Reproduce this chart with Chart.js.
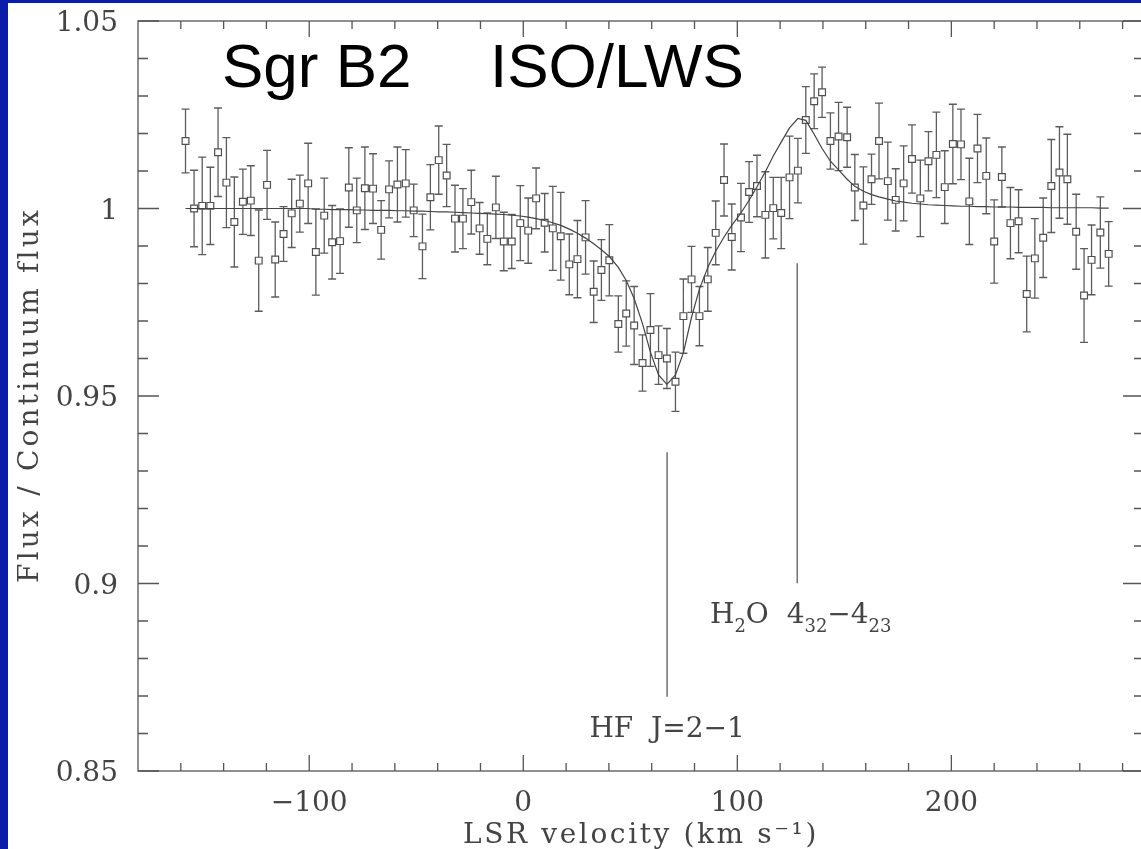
<!DOCTYPE html>
<html lang="en">
  <head>
    <meta charset="UTF-8" />
    <script src="https://cdn.jsdelivr.net/npm/chart.js@4.4.0/dist/chart.umd.min.js"></script>
    <title>Sgr B2 ISO/LWS</title>
    <style>
      html, body { margin: 0; padding: 0; overflow: hidden; background: #fff; }
      #wrap { position: relative; width: 1141px; height: 849px; overflow: hidden; }
      #chart { position: absolute; left: 0; top: 0; }
      .blue { position: absolute; background: #0a1ca8; }
    </style>
  </head>
  <body>
    <div id="wrap">
      <canvas id="chart" width="1150" height="849"></canvas>
      <div class="blue" style="left:0;top:0;width:8px;height:849px"></div>
      <div class="blue" style="left:0;top:0;width:1141px;height:3px"></div>
    </div>
    <script>
      // LSR velocity (km/s) of each ISO/LWS channel
      const velocity = [-157.8,-153.8,-150.0,-146.2,-142.6,-138.7,-135.0,-131.0,-127.3,-123.6,
        -119.7,-115.9,-112.0,-108.2,-104.4,-100.5,-96.9,-93.0,-89.3,-85.6,
        -81.5,-77.8,-74.0,-70.2,-66.4,-62.7,-58.8,-54.9,-51.2,-47.1,
        -43.4,-39.5,-35.8,-31.9,-28.2,-24.3,-20.4,-16.8,-12.8,-9.1,
        -5.4,-1.4,2.3,6.0,10.0,13.8,17.5,21.5,25.3,29.1,
        32.9,36.5,40.2,44.4,48.1,51.8,55.7,59.4,63.2,67.1,
        71.1,74.8,78.6,82.3,86.2,89.9,93.8,97.4,101.7,105.5,
        109.2,113.1,116.8,120.5,124.4,128.3,132.0,135.9,139.6,143.5,
        147.3,151.3,154.9,158.9,162.7,166.2,170.3,174.0,177.7,181.6,
        185.5,189.3,193.0,196.9,200.7,204.5,208.4,212.2,216.3,220.0,
        223.6,227.6,231.4,235.2,239.0,242.9,246.7,250.5,254.2,258.3,
        262.0,265.5,269.6,273.5];

      // flux / continuum flux
      const flux = [1.0180,1.0000,1.0007,1.0007,1.0150,1.0069,0.9964,1.0018,1.0021,0.9861,
        1.0063,0.9864,0.9932,0.9987,1.0013,1.0067,0.9884,0.9981,0.9910,0.9913,
        1.0056,0.9995,1.0054,1.0053,0.9943,1.0051,1.0064,1.0067,0.9995,0.9899,
        1.0030,1.0129,1.0088,0.9973,0.9973,1.0017,0.9947,0.9919,1.0003,0.9912,
        0.9912,0.9961,0.9941,1.0027,0.9962,0.9947,0.9926,0.9851,0.9865,0.9923,
        0.9778,0.9836,0.9862,0.9692,0.9720,0.9688,0.9588,0.9676,0.9609,0.9600,
        0.9538,0.9713,0.9811,0.9713,0.9811,0.9935,1.0076,0.9924,0.9976,1.0044,
        1.0060,0.9983,1.0001,0.9988,1.0083,1.0101,1.0236,1.0286,1.0310,1.0180,
        1.0192,1.0190,1.0056,1.0008,1.0078,1.0180,1.0073,1.0023,1.0067,1.0132,
        1.0027,1.0126,1.0143,1.0057,1.0172,1.0171,1.0019,1.0160,1.0087,0.9912,
        1.0084,0.9961,0.9966,0.9772,0.9867,0.9922,1.0060,1.0096,1.0078,0.9938,
        0.9768,0.9863,0.9936,0.9879];

      // 1 sigma error on each point
      const fluxErr = [0.0085,0.0102,0.0130,0.0103,0.0118,0.0120,0.0120,0.0087,0.0093,0.0135,
        0.0092,0.0100,0.0073,0.0091,0.0076,0.0107,0.0115,0.0100,0.0098,0.0086,
        0.0106,0.0086,0.0110,0.0093,0.0078,0.0076,0.0100,0.0090,0.0070,0.0086,
        0.0087,0.0091,0.0083,0.0089,0.0080,0.0085,0.0069,0.0069,0.0083,0.0078,
        0.0072,0.0100,0.0087,0.0081,0.0078,0.0112,0.0117,0.0081,0.0103,0.0098,
        0.0082,0.0081,0.0095,0.0075,0.0087,0.0104,0.0075,0.0097,0.0078,0.0080,
        0.0079,0.0099,0.0088,0.0079,0.0085,0.0085,0.0096,0.0088,0.0091,0.0081,
        0.0082,0.0115,0.0082,0.0095,0.0110,0.0086,0.0089,0.0073,0.0067,0.0075,
        0.0091,0.0080,0.0088,0.0103,0.0067,0.0101,0.0104,0.0083,0.0100,0.0091,
        0.0102,0.0079,0.0114,0.0097,0.0106,0.0094,0.0115,0.0091,0.0101,0.0111,
        0.0080,0.0095,0.0084,0.0101,0.0106,0.0106,0.0124,0.0122,0.0120,0.0100,
        0.0125,0.0093,0.0095,0.0086];

      // model fit (absorption HF + emission H2O), same channels
      const fitFlux = [1.0000,1.0000,1.0000,1.0000,1.0000,1.0000,1.0000,1.0000,1.0000,1.0000,
        1.0000,1.0000,1.0000,1.0000,1.0000,1.0000,0.9998,0.9998,0.9997,0.9997,
        0.9997,0.9996,0.9996,0.9995,0.9995,0.9995,0.9994,0.9994,0.9993,0.9993,
        0.9992,0.9991,0.9991,0.9990,0.9989,0.9988,0.9987,0.9986,0.9985,0.9984,
        0.9982,0.9980,0.9977,0.9973,0.9968,0.9962,0.9955,0.9945,0.9934,0.9921,
        0.9906,0.9890,0.9872,0.9843,0.9808,0.9760,0.9693,0.9617,0.9556,0.9531,
        0.9556,0.9615,0.9710,0.9785,0.9843,0.9886,0.9924,0.9955,0.9988,1.0022,
        1.0058,1.0098,1.0140,1.0177,1.0215,1.0240,1.0235,1.0198,1.0160,1.0126,
        1.0103,1.0078,1.0059,1.0046,1.0037,1.0031,1.0025,1.0020,1.0017,1.0014,
        1.0012,1.0010,1.0009,1.0008,1.0007,1.0006,1.0006,1.0005,1.0005,1.0004,
        1.0004,1.0004,1.0003,1.0003,1.0003,1.0003,1.0002,1.0002,1.0002,1.0002,
        1.0002,1.0002,1.0001,1.0001];

      // line identification markers
      const hfLineVel = [67.2, 67.2];
      const hfLineFlux = [0.8698, 0.935];
      const h2oLineVel = [128.0, 128.0];
      const h2oLineFlux = [0.9001, 0.9854];

      // axes
      const xTicks = [-160,-140,-120,-100,-80,-60,-40,-20,0,20,40,60,80,100,120,140,160,180,200,220,240,260,280];
      const xMajor = [-100, 0, 100, 200];
      const xLabels = ["\u2212100", "0", "100", "200"];
      const yTicks = [0.85,0.86,0.87,0.88,0.89,0.90,0.91,0.92,0.93,0.94,0.95,0.96,0.97,0.98,0.99,1.00,1.01,1.02,1.03,1.04,1.05];
      const yMajor = [0.85, 0.9, 0.95, 1, 1.05];
      const yLabels = ["0.85", "0.9", "0.95", "1", "1.05"];

      const ink = "#555";
      const serif = "'DejaVu Serif', serif";

      // error bars drawn under the squares
      const errorBars = {
        id: "errorBars",
        beforeDatasetsDraw(chart) {
          const { ctx, scales: { x, y } } = chart;
          ctx.save();
          ctx.strokeStyle = "#5c5c5c";
          ctx.lineWidth = 1.3;
          ctx.beginPath();
          velocity.forEach((v, i) => {
            const px = x.getPixelForValue(v);
            const top = y.getPixelForValue(flux[i] + fluxErr[i]);
            const bot = y.getPixelForValue(flux[i] - fluxErr[i]);
            ctx.moveTo(px, top); ctx.lineTo(px, bot);
            ctx.moveTo(px - 4, top); ctx.lineTo(px + 4, top);
            ctx.moveTo(px - 4, bot); ctx.lineTo(px + 4, bot);
          });
          ctx.stroke();
          ctx.restore();
        }
      };

      // box frame with inward ticks, labels and annotations
      const frame = {
        id: "frame",
        afterDraw(chart) {
          const { ctx, chartArea: a, scales: { x, y } } = chart;
          ctx.save();
          ctx.strokeStyle = ink;
          ctx.lineWidth = 1.3;
          ctx.strokeRect(a.left, a.top, a.right - a.left, a.bottom - a.top);
          ctx.beginPath();
          xTicks.forEach(v => {
            const px = x.getPixelForValue(v);
            const len = xMajor.includes(v) ? 16 : 8;
            ctx.moveTo(px, a.bottom); ctx.lineTo(px, a.bottom - len);
            ctx.moveTo(px, a.top); ctx.lineTo(px, a.top + len);
          });
          yTicks.forEach(v => {
            const py = y.getPixelForValue(v);
            const major = yMajor.some(m => Math.abs(m - v) < 1e-6);
            const len = major ? 21 : 10;
            ctx.moveTo(a.left, py); ctx.lineTo(a.left + len, py);
            ctx.moveTo(a.right, py); ctx.lineTo(a.right - len, py);
          });
          ctx.stroke();

          ctx.fillStyle = "#444";
          ctx.font = "28px " + serif;
          ctx.textBaseline = "alphabetic";
          ctx.textAlign = "right";
          yMajor.forEach((v, i) => {
            ctx.fillText(yLabels[i], a.left - 20, y.getPixelForValue(v) + 10);
          });
          ctx.textAlign = "center";
          xMajor.forEach((v, i) => {
            ctx.fillText(xLabels[i], x.getPixelForValue(v), a.bottom + 40);
          });

          // axis titles
          ctx.letterSpacing = "2.6px";
          ctx.fillText("LSR velocity (km s\u207B\u00B9)", 641, 843);
          ctx.save();
          ctx.translate(38, 395);
          ctx.rotate(-Math.PI / 2);
          ctx.letterSpacing = "3.2px";
          ctx.fillText("Flux / Continuum flux", 0, 0);
          ctx.restore();
          ctx.letterSpacing = "0px";

          // line names
          ctx.fillText("HF  J=2\u22121", x.getPixelForValue(hfLineVel[0]), 737);
          ctx.textAlign = "left";
          let cx = 710;
          const base = 623;
          const parts = [["H", 0], ["2", 1], ["O  4", 0], ["32", 1], ["\u22124", 0], ["23", 1]];
          parts.forEach(([t, sub]) => {
            ctx.font = (sub ? "18px " : "28px ") + serif;
            ctx.fillText(t, cx, sub ? base + 9 : base);
            cx += ctx.measureText(t).width;
          });

          // slide title
          ctx.fillStyle = "#000";
          ctx.font = "62px 'Liberation Sans', Arial, sans-serif";
          ctx.fillText("Sgr B2", 222, 87);
          ctx.fillText("ISO/LWS", 490, 87);
          ctx.restore();
        }
      };

      const ctx = document.getElementById("chart").getContext("2d");
      new Chart(ctx, {
        type: "scatter",
        data: {
          datasets: [
            {
              label: "HF line",
              data: hfLineVel.map((v, i) => ({ x: v, y: hfLineFlux[i] })),
              showLine: true,
              borderColor: "#777",
              borderWidth: 1.6,
              pointRadius: 0
            },
            {
              label: "H2O line",
              data: h2oLineVel.map((v, i) => ({ x: v, y: h2oLineFlux[i] })),
              showLine: true,
              borderColor: "#777",
              borderWidth: 1.6,
              pointRadius: 0
            },
            {
              label: "fit",
              data: velocity.map((v, i) => ({ x: v, y: fitFlux[i] })),
              showLine: true,
              borderColor: "#444",
              borderWidth: 1.2,
              pointRadius: 0,
              tension: 0
            },
            {
              label: "ISO/LWS",
              data: velocity.map((v, i) => ({ x: v, y: flux[i] })),
              pointStyle: "rect",
              pointRadius: 4.8,
              pointBorderWidth: 1.2,
              pointBorderColor: "#505050",
              pointBackgroundColor: "#fff"
            }
          ]
        },
        options: {
          responsive: false,
          animation: false,
          devicePixelRatio: 1,
          layout: { padding: { left: 138, top: 21, right: 4, bottom: 78 } },
          plugins: { legend: { display: false }, tooltip: { enabled: false } },
          scales: {
            x: { type: "linear", min: -180, max: 290, display: false },
            y: { min: 0.85, max: 1.05, display: false }
          }
        },
        plugins: [errorBars, frame]
      });
    </script>
  </body>
</html>
